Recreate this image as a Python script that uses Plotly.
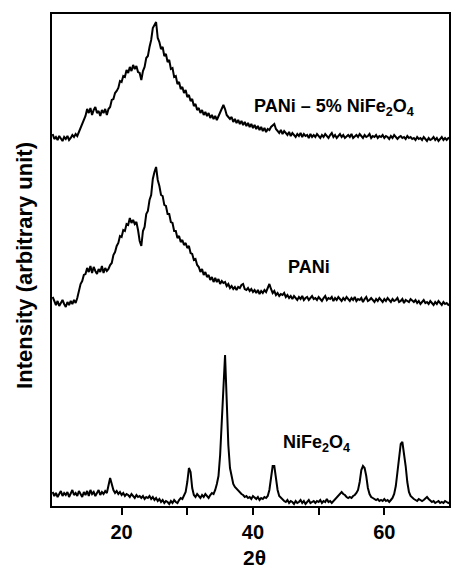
import numpy as np
import plotly.graph_objects as go

# 2-theta grid (degrees), 0.25 deg step
two_theta = np.arange(9.5, 70.01, 0.25)

# Intensities (arbitrary units), one value per grid point
pani_nife2o4 = [
    12, 7, 9, 6, 10, 8, 5, 9, 7, 10, 6, 8, 11, 9, 12, 10, 14, 19, 22, 27,
    30, 37, 33, 38, 31, 36, 39, 33, 35, 30, 36, 33, 37, 31, 37, 39, 46, 47, 53, 55,
    58, 65, 64, 70, 69, 76, 73, 79, 75, 81, 77, 80, 74, 73, 66, 75, 79, 88, 90, 99,
    106, 118, 121, 124, 108, 104, 97, 99, 90, 92, 84, 86, 77, 78, 69, 70, 62, 64, 57, 59,
    53, 56, 49, 51, 45, 47, 40, 42, 36, 38, 33, 36, 31, 34, 30, 33, 28, 31, 27, 30,
    26, 30, 33, 38, 41, 37, 31, 29, 27, 29, 24, 27, 23, 26, 22, 25, 21, 24, 20, 23,
    19, 22, 18, 21, 17, 20, 16, 19, 15, 18, 14, 17, 16, 19, 21, 22, 17, 15, 13, 16,
    12, 15, 13, 11, 14, 10, 13, 11, 9, 12, 10, 13, 9, 12, 10, 11, 8, 12, 9, 11,
    9, 12, 10, 8, 11, 9, 12, 10, 8, 11, 13, 9, 11, 8, 10, 12, 9, 11, 8, 10,
    11, 9, 12, 8, 10, 11, 9, 12, 10, 8, 11, 9, 10, 12, 8, 10, 9, 11, 8, 10,
    9, 11, 8, 10, 9, 7, 10, 8, 11, 9, 7, 9, 10, 8, 9, 7, 10, 8, 9, 7,
    8, 6, 9, 7, 8, 6, 9, 7, 5, 8, 6, 7, 9, 6, 8, 5, 7, 9, 6, 8,
    6, 8, 7,
]

pani = [
    13, 8, 5, 9, 4, 7, 10, 6, 3, 8, 5, 9, 6, 10, 7, 12, 18, 26, 29, 35,
    36, 42, 38, 44, 37, 43, 39, 36, 41, 38, 44, 37, 42, 39, 41, 45, 47, 55, 58, 64,
    67, 74, 73, 80, 79, 86, 85, 92, 87, 90, 86, 88, 80, 69, 64, 79, 83, 96, 99, 110,
    115, 131, 138, 143, 130, 124, 115, 114, 105, 104, 96, 96, 88, 87, 79, 79, 72, 74, 68, 70,
    65, 67, 62, 64, 57, 56, 50, 51, 45, 43, 38, 41, 35, 38, 33, 35, 30, 33, 28, 32,
    28, 31, 26, 29, 27, 28, 24, 26, 22, 24, 21, 23, 20, 23, 22, 25, 26, 21, 20, 22,
    19, 21, 18, 20, 17, 20, 16, 19, 17, 20, 18, 23, 26, 21, 17, 19, 15, 17, 14, 16,
    15, 17, 13, 15, 12, 14, 11, 14, 12, 10, 13, 11, 14, 10, 12, 13, 10, 12, 14, 11,
    12, 10, 13, 11, 9, 12, 14, 10, 12, 11, 13, 9, 12, 10, 13, 11, 9, 12, 10, 13,
    11, 9, 12, 10, 13, 9, 11, 10, 12, 8, 11, 13, 9, 10, 12, 10, 8, 11, 9, 12,
    10, 8, 11, 9, 12, 10, 8, 11, 9, 10, 12, 8, 9, 11, 7, 10, 9, 8, 11, 9,
    8, 10, 7, 9, 6, 8, 10, 7, 8, 6, 9, 7, 5, 8, 6, 9, 7, 5, 8, 6,
    7, 5, 6,
]

nife2o4 = [
    14, 10, 13, 9, 12, 15, 10, 13, 11, 14, 9, 12, 16, 11, 13, 10, 15, 12, 9, 14,
    11, 15, 10, 16, 12, 14, 10, 13, 16, 11, 14, 12, 15, 13, 21, 28, 22, 16, 13, 15,
    12, 14, 11, 13, 10, 12, 11, 9, 12, 10, 8, 11, 9, 10, 8, 10, 7, 9, 8, 10,
    7, 9, 6, 8, 5, 7, 4, 6, 3, 5, 4, 2, 5, 3, 6, 4, 3, 6, 8, 7,
    10, 14, 24, 38, 34, 18, 11, 9, 12, 10, 8, 11, 9, 12, 10, 8, 11, 13, 12, 16,
    22, 30, 51, 86, 131, 151, 106, 61, 38, 28, 22, 19, 17, 15, 14, 12, 11, 9, 10, 8,
    9, 7, 10, 8, 7, 9, 6, 8, 7, 9, 8, 10, 16, 28, 40, 40, 28, 16, 10, 8,
    6, 5, 4, 6, 3, 5, 4, 2, 5, 3, 4, 6, 3, 5, 2, 4, 6, 3, 4, 5,
    3, 5, 4, 6, 3, 5, 4, 7, 4, 5, 3, 5, 6, 8, 10, 13, 14, 12, 11, 9,
    8, 9, 8, 10, 11, 13, 16, 24, 36, 40, 38, 30, 18, 12, 9, 8, 7, 6, 7, 5,
    6, 5, 7, 5, 6, 4, 6, 8, 12, 20, 34, 48, 62, 64, 54, 40, 24, 14, 10, 8,
    7, 6, 5, 7, 6, 5, 6, 8, 9, 7, 5, 4, 5, 3, 4, 5, 3, 4, 3, 5,
    4, 3, 4,
]

series_names = ["NiFe<sub>2</sub>O<sub>4</sub>", "PANi", "PANi – 5% NiFe<sub>2</sub>O<sub>4</sub>"]
series_values = [nife2o4, pani, pani_nife2o4]
stack_offsets = [0, 196, 360]
label_x = [49.7, 48.6, 52.3]
label_y = [63, 239, 399]

x_tick_vals = [20, 30, 40, 50, 60]
x_tick_text = ["20", "", "40", "", "60"]

fig = go.Figure()
for name, vals, off in zip(series_names, series_values, stack_offsets):
    fig.add_trace(go.Scatter(
        x=two_theta, y=np.array(vals) + off, mode="lines",
        line=dict(color="black", width=2), name=name, showlegend=False,
    ))

for name, lx, ly in zip(series_names, label_x, label_y):
    fig.add_annotation(x=lx, y=ly, text=name, showarrow=False,
                       font=dict(family="Arial", size=18, color="black", weight="bold"),
                       xanchor="center", yanchor="middle")

fig.add_annotation(xref="paper", yref="paper", x=-0.068, y=0.488,
                   text="Intensity (arbitrary unit)", textangle=-90, showarrow=False,
                   font=dict(family="Arial", size=22, color="black", weight="bold"),
                   xanchor="center", yanchor="middle")
fig.add_annotation(xref="x", yref="paper", x=40.2, y=-0.104,
                   text="2θ", showarrow=False,
                   font=dict(family="Arial", size=21, color="black", weight="bold"),
                   xanchor="center", yanchor="middle")

fig.update_layout(
    width=453, height=568,
    margin=dict(l=52, r=2, t=14, b=62),
    paper_bgcolor="white", plot_bgcolor="white",
)
fig.update_xaxes(
    range=[9.4, 69.85], tickvals=x_tick_vals, ticktext=x_tick_text,
    ticks="outside", ticklen=7, tickwidth=2, tickcolor="black",
    tickfont=dict(family="Arial", size=20, color="black", weight="bold"),
    showline=True, linewidth=2, linecolor="black", mirror=True,
    showgrid=False, zeroline=False,
)
fig.update_yaxes(
    range=[0, 492], showticklabels=False, ticks="",
    showline=True, linewidth=2, linecolor="black", mirror=True,
    showgrid=False, zeroline=False,
)

fig.write_html("out.html")
